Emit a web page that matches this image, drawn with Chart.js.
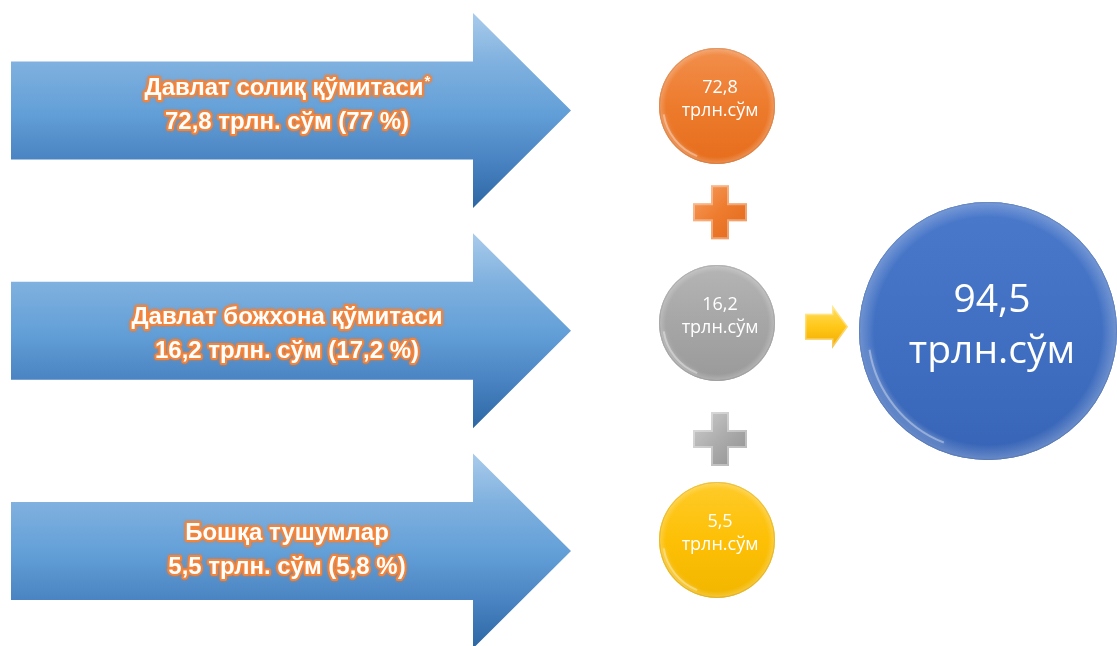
<!DOCTYPE html>
<html><head><meta charset="utf-8">
<script src="https://cdn.jsdelivr.net/npm/chart.js@4.4.1/dist/chart.umd.min.js"></script>
<style>html,body{margin:0;padding:0;background:#fff;} #wrap{width:1117px;height:646px;position:relative;}</style>
</head><body><div id="wrap"><canvas id="c"></canvas></div>
<script>
// ---- data ----
const categories = ['Давлат солиқ қўмитаси*', 'Давлат божхона қўмитаси', 'Бошқа тушумлар'];
const values = [72.8, 16.2, 5.5];
const shares = [77, 17.2, 5.8];
const totalLabels = ['Жами'];
const totalValues = [94.5];
const unitShort = 'трлн.сўм';
const unitLong = 'трлн. сўм';

const fmt = v => String(v).replace('.', ',');

// ---- layout / style (not data) ----
const LAYOUT = {
  partsX: 717, totalX: 988,
  smallR: 58, bigR: 129,
  arrow: { left: 11, neckX: 473, tipX: 571, bodyHalf: 49, headHalf: 97.5 },
  arrowTextX: 287, arrowTextDy: [-16, -7, -11], arrowLineGap: 34,
  plusSize: 54, plusThick: 18,
  partColors: ['#ED7D31', '#A5A5A5', '#FFC000'],
  totalColor: '#4472C4'
};
const SHADES = {
  '#ED7D31': ['#f28f4c', '#ed7b2d', '#e66d1c'],
  '#A5A5A5': ['#b5b5b5', '#a6a6a6', '#9a9a9a'],
  '#FFC000': ['#ffcb2a', '#fdc006', '#f2b600'],
  '#4472C4': ['#4a78ca', '#4170c2', '#3764b6']
};
const MAIN_FONT = 'bold 24px "Liberation Sans", Arial, sans-serif';
const SUP_FONT = 'bold 15px "Liberation Sans", Arial, sans-serif';

function drawArrow(ctx, yc) {
  const a = LAYOUT.arrow;
  const top = yc - a.headHalf, bot = yc + a.headHalf;
  const g = ctx.createLinearGradient(0, top, 0, bot);
  g.addColorStop(0, '#a9cbeb');
  g.addColorStop(0.25, '#80b1df');
  g.addColorStop(0.5, '#64a0d8');
  g.addColorStop(0.75, '#4a84c2');
  g.addColorStop(1, '#2c66a3');
  ctx.beginPath();
  ctx.moveTo(a.left, yc - a.bodyHalf);
  ctx.lineTo(a.neckX, yc - a.bodyHalf);
  ctx.lineTo(a.neckX, top);
  ctx.lineTo(a.tipX, yc);
  ctx.lineTo(a.neckX, bot);
  ctx.lineTo(a.neckX, yc + a.bodyHalf);
  ctx.lineTo(a.left, yc + a.bodyHalf);
  ctx.closePath();
  ctx.fillStyle = g;
  ctx.fill();
}

function strokeFill(ctx, text, x, y, font, lw) {
  ctx.save();
  ctx.font = font;
  ctx.textAlign = 'left';
  ctx.textBaseline = 'alphabetic';
  ctx.lineJoin = 'round';
  ctx.shadowColor = 'rgba(240,120,40,0.8)';
  ctx.shadowBlur = 3;
  ctx.strokeStyle = '#f3843a';
  ctx.lineWidth = lw;
  ctx.strokeText(text, x, y);
  ctx.shadowColor = 'transparent';
  ctx.fillStyle = '#ffffff';
  ctx.fillText(text, x, y);
  ctx.restore();
}

function glowText(ctx, text, cx, y) {
  let main = text, sup = '';
  if (text.endsWith('*')) { main = text.slice(0, -1); sup = '*'; }
  ctx.save();
  ctx.font = MAIN_FONT;
  const w1 = ctx.measureText(main).width;
  ctx.font = SUP_FONT;
  const w2 = sup ? ctx.measureText(sup).width : 0;
  ctx.restore();
  const x0 = cx - (w1 + w2) / 2;
  strokeFill(ctx, main, x0, y, MAIN_FONT, 4);
  if (sup) strokeFill(ctx, sup, x0 + w1 + 1, y - 9, SUP_FONT, 3);
}

function drawPlus(ctx, cx, cy, base, light, dark) {
  const s = LAYOUT.plusSize / 2, t = LAYOUT.plusThick / 2;
  ctx.save();
  ctx.beginPath();
  ctx.moveTo(cx - t, cy - s); ctx.lineTo(cx + t, cy - s); ctx.lineTo(cx + t, cy - t);
  ctx.lineTo(cx + s, cy - t); ctx.lineTo(cx + s, cy + t); ctx.lineTo(cx + t, cy + t);
  ctx.lineTo(cx + t, cy + s); ctx.lineTo(cx - t, cy + s); ctx.lineTo(cx - t, cy + t);
  ctx.lineTo(cx - s, cy + t); ctx.lineTo(cx - s, cy - t); ctx.lineTo(cx - t, cy - t);
  ctx.closePath();
  const g = ctx.createLinearGradient(cx - s, cy - s, cx + s, cy + s);
  g.addColorStop(0, light); g.addColorStop(0.5, base); g.addColorStop(1, dark);
  ctx.fillStyle = g;
  ctx.fill();
  ctx.clip();
  ctx.lineWidth = 4;
  ctx.strokeStyle = 'rgba(255,255,255,0.35)';
  ctx.stroke();
  ctx.restore();
}

function drawSmallArrow(ctx, x0, yc) {
  ctx.save();
  const w = 43, bh = 13, hh = 22, neck = 27;
  ctx.beginPath();
  ctx.moveTo(x0, yc - bh); ctx.lineTo(x0 + neck, yc - bh); ctx.lineTo(x0 + neck, yc - hh);
  ctx.lineTo(x0 + w, yc); ctx.lineTo(x0 + neck, yc + hh); ctx.lineTo(x0 + neck, yc + bh);
  ctx.lineTo(x0, yc + bh); ctx.closePath();
  const g = ctx.createLinearGradient(0, yc - hh, 0, yc + hh);
  g.addColorStop(0, '#ffe066'); g.addColorStop(0.5, '#ffc819'); g.addColorStop(1, '#f0a800');
  ctx.fillStyle = g;
  ctx.fill();
  ctx.clip();
  ctx.lineWidth = 3; ctx.strokeStyle = 'rgba(255,255,255,0.35)'; ctx.stroke();
  ctx.restore();
}

function glossCircle(ctx, x, y, r, base) {
  const sh = SHADES[base];
  ctx.save();
  ctx.beginPath(); ctx.arc(x, y, r, 0, Math.PI * 2); ctx.closePath();
  const g = ctx.createLinearGradient(0, y - r, 0, y + r);
  g.addColorStop(0, sh[0]); g.addColorStop(0.5, sh[1]); g.addColorStop(1, sh[2]);
  ctx.fillStyle = g; ctx.fill();
  ctx.clip();
  const rg = ctx.createRadialGradient(x, y, r * 0.88, x, y, r);
  rg.addColorStop(0, 'rgba(255,255,255,0)');
  rg.addColorStop(1, 'rgba(255,255,255,0.25)');
  ctx.fillStyle = rg; ctx.fillRect(x - r, y - r, 2 * r, 2 * r);
  ctx.shadowColor = 'rgba(255,255,255,0.8)'; ctx.shadowBlur = 5;
  ctx.strokeStyle = 'rgba(255,255,255,0.35)';
  ctx.lineWidth = 2;
  ctx.beginPath(); ctx.arc(x, y, r * 0.93, Math.PI * 0.62, Math.PI * 0.95); ctx.stroke();
  ctx.restore();
  ctx.save();
  ctx.beginPath(); ctx.arc(x, y, r - 0.5, 0, Math.PI * 2);
  ctx.strokeStyle = 'rgba(0,0,0,0.10)'; ctx.lineWidth = 1; ctx.stroke();
  ctx.restore();
}

const infographic = {
  id: 'infographic',
  beforeDatasetsDraw(chart) {
    const ctx = chart.ctx;
    const ya = chart.scales.yArrows;
    categories.forEach((name, i) => {
      const yc = ya.getPixelForValue(i);
      drawArrow(ctx, yc);
      const b = yc + LAYOUT.arrowTextDy[i];
      glowText(ctx, name, LAYOUT.arrowTextX, b);
      glowText(ctx, fmt(values[i]) + ' ' + unitLong + ' (' + fmt(shares[i]) + ' %)', LAYOUT.arrowTextX, b + LAYOUT.arrowLineGap);
    });
    const ys = chart.scales.y;
    const px = chart.scales.x.getPixelForValue(LAYOUT.partsX);
    drawPlus(ctx, px + 3, ys.getPixelForValue(0.49), '#ee7b2e', '#f6a062', '#e0681a');
    drawPlus(ctx, px + 3, ys.getPixelForValue(1.535), '#acacac', '#cfcfcf', '#8f8f8f');
    drawSmallArrow(ctx, chart.scales.x.getPixelForValue(805), chart.scales.yTotal.getPixelForValue(0.98));
  },
  afterDatasetsDraw(chart) {
    const ctx = chart.ctx;
    const parts = chart.getDatasetMeta(0).data;
    parts.forEach((el, i) => {
      const r = el.options.radius;
      glossCircle(ctx, el.x, el.y, r, LAYOUT.partColors[i]);
      ctx.save();
      ctx.fillStyle = '#ffffff';
      ctx.font = '18px "Open Sans", "Noto Sans", sans-serif';
      ctx.textAlign = 'center'; ctx.textBaseline = 'alphabetic';
      ctx.fillText(fmt(values[i]), el.x + 3, el.y - 13);
      ctx.fillText(unitShort, el.x + 3, el.y + 10);
      ctx.restore();
    });
    const tot = chart.getDatasetMeta(1).data;
    tot.forEach((el, i) => {
      const r = el.options.radius;
      glossCircle(ctx, el.x, el.y, r, LAYOUT.totalColor);
      ctx.save();
      ctx.fillStyle = '#ffffff';
      ctx.font = '39px "Open Sans", "Noto Sans", sans-serif';
      ctx.textAlign = 'center'; ctx.textBaseline = 'alphabetic';
      ctx.fillText(fmt(totalValues[i]), el.x + 4, el.y - 19);
      ctx.fillText(unitShort, el.x + 4, el.y + 32);
      ctx.restore();
    });
  }
};

new Chart(document.getElementById('c'), {
  type: 'bubble',
  data: {
    datasets: [
      {
        label: 'parts',
        data: values.map((v, i) => ({ x: LAYOUT.partsX, y: i, v })),
        radius: LAYOUT.smallR,
        backgroundColor: LAYOUT.partColors,
        borderWidth: 0,
        yAxisID: 'y'
      },
      {
        label: totalLabels[0],
        data: totalValues.map(v => ({ x: LAYOUT.totalX, y: 1, v })),
        radius: LAYOUT.bigR,
        backgroundColor: LAYOUT.totalColor,
        borderWidth: 0,
        yAxisID: 'yTotal'
      }
    ]
  },
  options: {
    responsive: true,
    maintainAspectRatio: false,
    animation: false,
    events: [],
    layout: { padding: 0, autoPadding: false },
    plugins: { legend: { display: false }, tooltip: { enabled: false }, title: { display: false } },
    scales: {
      x: { type: 'linear', min: 0, max: 1117, display: false },
      y: { type: 'linear', reverse: true, min: -0.4885, max: 2.4885, display: false },
      yTotal: { type: 'linear', reverse: true, min: -0.5253, max: 2.4516, display: false },
      yArrows: { type: 'linear', reverse: true, min: -0.5017, max: 2.4313, display: false }
    }
  },
  plugins: [infographic]
});
</script>
</body></html>
